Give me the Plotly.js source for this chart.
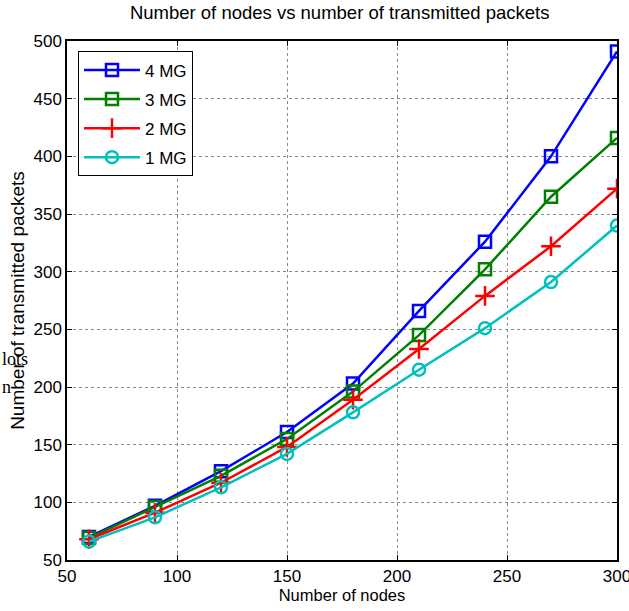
<!DOCTYPE html>
<html><head><meta charset="utf-8">
<script src="https://cdn.plot.ly/plotly-3.0.1.min.js"></script>
<style>body{margin:0;padding:0;background:#fff}#chart{width:629px;height:611px}</style>
</head><body><div id="chart"></div>
<script>
const nodes = [60, 90, 120, 150, 180, 210, 240, 270, 300];
const mg4 = [70, 97, 127, 161, 203, 266, 326, 400, 491];
const mg3 = [69, 96, 123, 155, 196, 245, 302, 365, 416];
const mg2 = [68, 91, 117, 148, 189, 233, 279, 322, 372];
const mg1 = [66, 87, 113, 142, 178, 215, 251, 291, 340];
const seriesNames = ['4 MG', '3 MG', '2 MG', '1 MG'];
const xTicks = [50, 100, 150, 200, 250, 300];
const yTicks = [50, 100, 150, 200, 250, 300, 350, 400, 450, 500];

const colors = ['#0000ff', '#008000', '#ff0000', '#00bfbf'];
const symbols = ['square-open', 'square-open', 'cross-thin-open', 'circle-open'];
const sizes = [12, 12, 14, 12];
const data = [mg4, mg3, mg2, mg1].map((ys, i) => ({
  x: nodes, y: ys, name: seriesNames[i], type: 'scatter', mode: 'lines+markers',
  legendgroup: 'g' + i,
  line: {color: colors[i], width: 2.5},
  marker: {symbol: symbols[i], size: sizes[i], color: colors[i], line: {color: colors[i], width: 2.5}}
}));

const font = 'Liberation Sans, Arial, sans-serif';
const axisCommon = {
  showline: true, linecolor: '#000', linewidth: 1.5, mirror: 'ticks',
  ticks: 'inside', ticklen: 5, tickcolor: '#000',
  showgrid: true, gridcolor: '#888', griddash: 'dot', gridwidth: 1,
  zeroline: false, tickfont: {family: font, size: 17, color: '#000'},
  ticklabeloverflow: 'allow'
};
const layout = {
  width: 629, height: 611,
  margin: {l: 67, r: 12, t: 41, b: 51},
  paper_bgcolor: '#fff', plot_bgcolor: '#fff',
  title: {text: 'Number of nodes vs number of transmitted packets', font: {family: font, size: 18.5, color: '#000'}, x: 0.54, xanchor: 'center', y: 0.99, yanchor: 'top'},
  xaxis: Object.assign({}, axisCommon, {range: [50, 300], tickvals: xTicks,
    title: {text: 'Number of nodes', font: {family: font, size: 16.5, color: '#000'}, standoff: 4}}),
  yaxis: Object.assign({}, axisCommon, {range: [50, 500], tickvals: yTicks,
    title: {text: 'Number of transmitted packets', font: {family: font, size: 19, color: '#000'}, standoff: 4}}),
  showlegend: true,
  legend: {x: 0.02, y: 0.98, xanchor: 'left', yanchor: 'top', bgcolor: '#fff', bordercolor: '#000', borderwidth: 1,
    font: {family: font, size: 17, color: '#000'}, itemwidth: 56, tracegroupgap: 4},
  annotations: [
    {xref: 'paper', yref: 'paper', x: -0.122, y: 0.387, xanchor: 'left', yanchor: 'middle', showarrow: false,
     text: 'lots', font: {family: 'Liberation Serif, serif', size: 18, color: '#000'}},
    {xref: 'paper', yref: 'paper', x: -0.122, y: 0.333, xanchor: 'left', yanchor: 'middle', showarrow: false,
     text: 'n', font: {family: 'Liberation Serif, serif', size: 18, color: '#000'}}
  ]
};
Plotly.newPlot('chart', data, layout, {displayModeBar: false});
</script></body></html>
